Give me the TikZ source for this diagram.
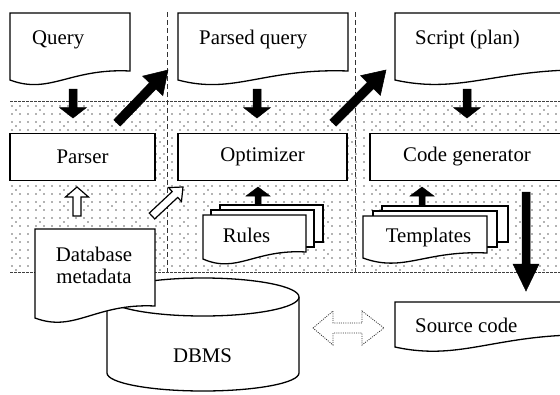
\documentclass[tikz,border=0pt]{standalone}
\usepackage{fontspec}
\setmainfont{Liberation Serif}
\usetikzlibrary{calc}

% block arrow polygon: #1 style, #2 tail, #3 tip, #4 half shaft, #5 half head, #6 head length
\newcommand\blockarrow[6]{%
  \path ($(#3)!#6!(#2)$) coordinate (neck);
  \draw[#1] ($(#2)!#4!90:(#3)$) -- ($(neck)!#4!90:(#3)$) -- ($(neck)!#5!90:(#3)$)
    -- (#3) -- ($(neck)!#5!-90:(#3)$) -- ($(neck)!#4!-90:(#3)$)
    -- ($(#2)!#4!-90:(#3)$) -- cycle;}

% document outline: #1 left, #2 top, #3 right, #4 bottom at left, #5 bottom at right
\newcommand\docpath[5]{(#1,#2) -- (#3,#2) -- (#3,#5)
  .. controls ({#1+0.5*(#3-#1)},{#5-3}) and ({#1+0.33*(#3-#1)},{#4+15}) .. (#1,#4) -- cycle}

\begin{document}
\begin{tikzpicture}[x=1pt,y=-1pt,
  every node/.style={font=\fontsize{20.8}{22}\selectfont},
  outline/.style={draw=black, line width=1.3pt, fill=white},
  box/.style={outline, minimum height=47pt, inner sep=0pt},
  txt/.style={inner sep=0pt},
  hdiv/.style={draw=black!75, line width=0.6pt, dash pattern=on 2.5pt off 1.5pt},
  vdiv/.style={draw=black!80, line width=0.7pt, dash pattern=on 5pt off 3pt},
  solidarrow/.style={fill=black, draw=black, line width=0.5pt},
  hollowarrow/.style={fill=white, draw=black, line width=1.2pt},
  ghostarrow/.style={draw=black!80, line width=0.8pt, dash pattern=on 1pt off 1.2pt}]

\clip (0,0) rectangle (560,394);
\fill[white] (0,0) rectangle (560,394);

% dotted band
\foreach \i in {0,...,68}
  \foreach \j in {0,...,20}
    \fill[black!60] ({12+8*\i},{106+8*\j}) circle (0.85pt);
\foreach \i in {0,...,22}
  \foreach \j in {0,...,10}
    \fill[black!60] ({16+24*\i},{110+16*\j}) circle (0.85pt);

% band borders and column separators
\draw[hdiv] (10,101) -- (560,101);
\draw[hdiv] (10,272) -- (560,272);
\draw[vdiv] (167,12) -- (167,272);
\draw[vdiv] (355,12) -- (355,272);

% input / output documents
\filldraw[outline] \docpath{10}{13}{130}{80}{71};
\node[txt, anchor=base west] (query) at (32,44) {Query};
\filldraw[outline] \docpath{178}{13}{348}{80}{71};
\node[txt, anchor=base west] (parsed) at (199,44) {Parsed query};
\filldraw[outline] \docpath{395}{13}{600}{80}{70};
\node[txt, anchor=base west] (script) at (415,44) {Script (plan)};
\filldraw[outline] \docpath{395}{302}{600}{347}{335};
\node[txt, anchor=base west] (source) at (415,332) {Source code};

% processing steps
\node[box, minimum width=145pt] (parser) at (82.5,157) {Parser};
\node[box, minimum width=169pt] (optimizer) at (262.5,157) {Optimizer};
\node[box, minimum width=194pt] (codegen) at (467,157) {Code generator};

% rule set
\filldraw[outline] (220,205) rectangle (323,242);
\filldraw[outline] (211,210) rectangle (314,247);
\filldraw[outline] \docpath{203}{215}{306}{259}{252};
\node[txt, anchor=base] (rules) at (246.5,242) {Rules};

% template set
\filldraw[outline] (382,206) rectangle (508,242);
\filldraw[outline] (373,211) rectangle (497,247);
\filldraw[outline] \docpath{363}{216}{487}{258}{253};
\node[txt, anchor=base] (templates) at (428.5,242) {Templates};

% DBMS cylinder
\fill[white] (107,297) -- (107,373) arc[start angle=180, end angle=360, x radius=96pt, y radius=18pt] -- (299,297) -- cycle;
\draw[line width=1.3pt] (107,297) -- (107,373) arc[start angle=180, end angle=360, x radius=96pt, y radius=18pt] -- (299,297);
\filldraw[outline] (203,297) ellipse[x radius=96pt, y radius=19pt];
\node[txt, anchor=base] (dbms) at (202.5,362) {DBMS};

% metadata document
\filldraw[outline] \docpath{35}{229}{155}{318}{306};
\node[txt, anchor=base] (meta1) at (94,261) {Database};
\node[txt, anchor=base] (meta2) at (94,283) {metadata};

% arrow end points
\coordinate (q-out) at (73,89);   \coordinate (p-in) at (73,118);
\coordinate (pq-out) at (257,89); \coordinate (o-in) at (257,118);
\coordinate (sp-out) at (467,89); \coordinate (c-in) at (467,118);
\coordinate (p-out) at (117,123); \coordinate (pq-in) at (168,70);
\coordinate (o-out) at (333,123); \coordinate (sp-in) at (386,70);
\coordinate (r-out) at (258,205); \coordinate (o-up) at (258,187);
\coordinate (t-out) at (422,206); \coordinate (c-up) at (422,187);
\coordinate (c-out) at (526,192); \coordinate (sc-in) at (526,291);
\coordinate (m-out) at (77,216);  \coordinate (p-up) at (77,187);
\coordinate (m-out2) at (152,216); \coordinate (o-up2) at (183,187);
\coordinate (db-link) at (313,328); \coordinate (sc-link) at (384,328);

\blockarrow{solidarrow}{q-out}{p-in}{4pt}{13.5pt}{10.5pt}
\blockarrow{solidarrow}{pq-out}{o-in}{4pt}{13.5pt}{10.5pt}
\blockarrow{solidarrow}{sp-out}{c-in}{4pt}{13.5pt}{10.5pt}
\blockarrow{solidarrow}{p-out}{pq-in}{4.5pt}{14pt}{22pt}
\blockarrow{solidarrow}{o-out}{sp-in}{4.5pt}{14pt}{22pt}
\blockarrow{solidarrow}{r-out}{o-up}{3pt}{12pt}{9pt}
\blockarrow{solidarrow}{t-out}{c-up}{3pt}{12pt}{9pt}
\blockarrow{solidarrow}{c-out}{sc-in}{4pt}{13pt}{27pt}
\blockarrow{hollowarrow}{m-out}{p-up}{4pt}{11.5pt}{10pt}
\blockarrow{hollowarrow}{m-out2}{o-up2}{4pt}{9.5pt}{11pt}

% two-way link between DBMS and source code
\draw[ghostarrow] (db-link) -- ($(db-link)+(20,-17)$) -- ($(db-link)+(20,-5)$)
  -- ($(sc-link)+(-22,-5)$) -- ($(sc-link)+(-22,-17)$) -- (sc-link)
  -- ($(sc-link)+(-22,17)$) -- ($(sc-link)+(-22,5)$) -- ($(db-link)+(20,5)$)
  -- ($(db-link)+(20,17)$) -- cycle;
\end{tikzpicture}
\end{document}
